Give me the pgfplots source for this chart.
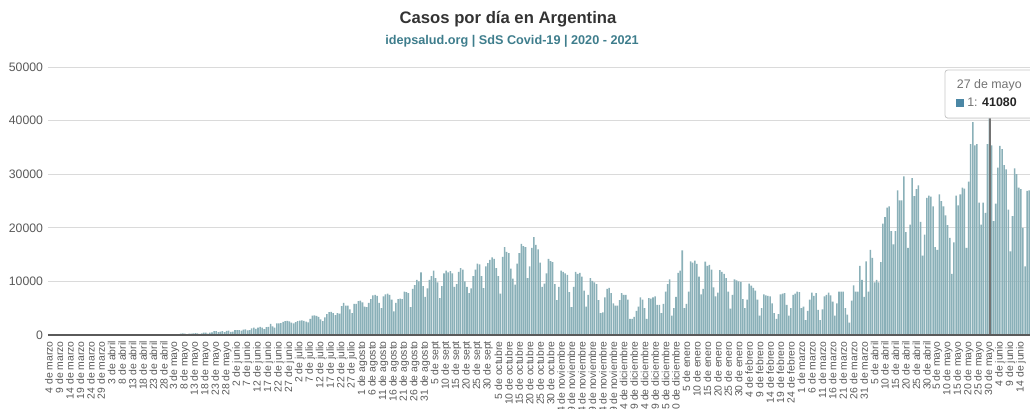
\documentclass[border=0pt]{standalone}
\usepackage{pgfplots}
\pgfplotsset{compat=1.18}
\usepackage{pgfplotstable}
\usepackage{fontspec}
\setmainfont{Liberation Sans}
\usetikzlibrary{shadows}

\definecolor{barfill}{RGB}{138,176,184}
\definecolor{gridgray}{RGB}{218,218,218}
\definecolor{ticktext}{RGB}{90,90,90}
\definecolor{titlecol}{RGB}{51,51,51}
\definecolor{subcol}{RGB}{62,125,140}
\definecolor{tipsq}{RGB}{75,135,165}

% casos diarios, 4 de marzo 2020 en adelante (un valor por barra)
\pgfplotstableread[row sep=\\]{
cases\\
1\\0\\6\\2\\5\\0\\2\\9\\12\\3\\
11\\11\\10\\9\\18\\31\\30\\67\\41\\36\\
86\\87\\101\\55\\101\\75\\59\\146\\88\\132\\
98\\89\\100\\121\\101\\106\\77\\104\\83\\60\\
130\\130\\132\\105\\112\\81\\102\\112\\145\\144\\
172\\111\\90\\124\\113\\148\\143\\103\\111\\145\\
120\\179\\165\\240\\285\\245\\163\\240\\255\\316\\
345\\325\\225\\310\\460\\425\\280\\450\\510\\720\\
720\\550\\630\\710\\560\\790\\810\\600\\640\\900\\
900\\930\\830\\1000\\1050\\860\\890\\1240\\1380\\1130\\
1400\\1530\\1380\\1100\\1450\\1500\\2060\\1630\\1370\\2150\\
2150\\2200\\2450\\2600\\2650\\2550\\2300\\2150\\2400\\2600\\
2700\\2750\\2650\\2500\\2350\\3000\\3600\\3650\\3550\\3400\\
2900\\2600\\3300\\3900\\4250\\4300\\4100\\3700\\4100\\4000\\
5400\\6000\\5500\\5500\\4800\\4100\\5800\\5800\\6300\\6400\\
6100\\5300\\5200\\6000\\6700\\7400\\7500\\7300\\6000\\5000\\
7200\\7600\\7700\\7500\\6600\\4400\\6000\\6700\\6800\\6700\\
8100\\8000\\7800\\5200\\8600\\9300\\10300\\10000\\11700\\9100\\
7100\\8700\\10300\\11000\\12000\\10600\\9800\\6900\\9100\\11500\\
12000\\11700\\11900\\11500\\9000\\9500\\11800\\12500\\12200\\10000\\
9000\\7800\\8700\\11000\\12200\\13300\\13200\\11000\\8750\\12800\\
13400\\14000\\14500\\14200\\12500\\11000\\7700\\14600\\16400\\15500\\
15300\\12400\\10500\\9400\\13300\\15300\\17000\\16600\\16400\\10600\\
12800\\16250\\18250\\16800\\16000\\13500\\9000\\9600\\11500\\14200\\
13800\\13600\\9500\\6500\\9000\\12000\\11800\\11500\\11200\\8000\\
5200\\9000\\11800\\11400\\11600\\10900\\8300\\5300\\7500\\10600\\
10100\\9800\\9500\\6500\\4100\\4200\\7000\\8600\\8800\\7800\\
5900\\5500\\5500\\6500\\7800\\7500\\7500\\6600\\3000\\3000\\
3400\\4500\\5300\\7000\\6600\\5000\\3000\\6900\\6800\\7000\\
7200\\5600\\5600\\4100\\5800\\8100\\9500\\10400\\3600\\5000\\
7100\\11600\\12000\\15800\\5000\\5800\\8100\\13750\\13500\\13900\\
13250\\10900\\7600\\8600\\13700\\12900\\13100\\12200\\8900\\7200\\
7900\\12100\\11800\\11400\\10600\\8100\\4900\\7500\\10400\\10200\\
10000\\9900\\6700\\5000\\6600\\9600\\9200\\8800\\8300\\6600\\
3600\\5000\\7600\\7400\\7300\\7200\\5900\\4100\\3000\\3900\\
7600\\7700\\7800\\5600\\3600\\5000\\7500\\7700\\8100\\8000\\
5000\\5300\\2800\\4500\\6600\\7900\\7300\\7800\\4700\\2800\\
4800\\7200\\7500\\7900\\7400\\6250\\3600\\5900\\8100\\8100\\
8100\\5000\\3800\\2300\\6400\\9250\\8100\\8100\\12900\\10300\\
7100\\13750\\8100\\15900\\14400\\9800\\10300\\9800\\13600\\20800\\
22000\\23750\\24000\\19400\\16900\\19400\\27000\\25100\\25100\\29600\\
19200\\16250\\20600\\29250\\25900\\27200\\27900\\21100\\14800\\18750\\
25600\\26000\\25800\\24000\\16400\\15900\\26250\\25000\\24000\\22300\\
20500\\18100\\11400\\17300\\26000\\24200\\26250\\27500\\27300\\16250\\
28600\\35600\\39700\\35400\\35600\\24700\\20600\\24700\\22800\\35600\\
41080\\35400\\21250\\24500\\31250\\35300\\34700\\31700\\30900\\23400\\
15600\\22200\\31100\\30000\\27500\\27200\\20000\\12800\\26900\\27000\\
}\casos

\begin{document}
\begin{tikzpicture}
% la captura original esta recortada abajo y a la derecha
\useasboundingbox (0pt,0pt) rectangle (772.5pt,-306pt);

\node[font=\bfseries\fontsize{12.5}{14}\selectfont, text=titlecol] at (381pt,-14.5pt) {Casos por día en Argentina};
\node[font=\bfseries\fontsize{9.5}{11}\selectfont, text=subcol] at (384pt,-31.25pt) {idepsalud.org | SdS Covid-19 | 2020 - 2021};

\begin{axis}[
  at={(35.96pt,-251.25pt)}, anchor=south west,
  scale only axis, width=737.5pt, height=201pt,
  xmin=-0.5, xmax=470, ymin=0, ymax=50000,
  axis line style={draw=none},
  tick style={draw=none},
  ytick={0,10000,20000,30000,40000,50000},
  ymajorgrids, grid style={draw=gridgray, line width=0.6pt},
  scaled y ticks=false,
  /pgf/number format/1000 sep={},
  /pgf/number format/assume math mode=true,
  yticklabel style={font=\fontsize{9.2}{10}\selectfont, text=ticktext, inner sep=0pt, xshift=-3.5pt},
  xtick={0,5,...,465},
  xticklabels={4 de marzo, 9 de marzo, 14 de marzo, 19 de marzo, 24 de marzo, 29 de marzo,
    3 de abril, 8 de abril, 13 de abril, 18 de abril, 23 de abril, 28 de abril,
    3 de mayo, 8 de mayo, 13 de mayo, 18 de mayo, 23 de mayo, 28 de mayo,
    2 de junio, 7 de junio, 12 de junio, 17 de junio, 22 de junio, 27 de junio,
    2 de julio, 7 de julio, 12 de julio, 17 de julio, 22 de julio, 27 de julio,
    1 de agosto, 6 de agosto, 11 de agosto, 16 de agosto, 21 de agosto, 26 de agosto, 31 de agosto,
    5 de sept, 10 de sept, 15 de sept, 20 de sept, 25 de sept, 30 de sept,
    5 de octubre, 10 de octubre, 15 de octubre, 20 de octubre, 25 de octubre, 30 de octubre,
    4 de noviembre, 9 de noviembre, 14 de noviembre, 19 de noviembre, 24 de noviembre, 29 de noviembre,
    4 de diciembre, 9 de diciembre, 14 de diciembre, 19 de diciembre, 25 de diciembre, 30 de diciembre,
    5 de enero, 10 de enero, 15 de enero, 20 de enero, 25 de enero, 30 de enero,
    4 de febrero, 9 de febrero, 14 de febrero, 19 de febrero, 24 de febrero,
    1 de marzo, 6 de marzo, 11 de marzo, 16 de marzo, 21 de marzo, 26 de marzo, 31 de marzo,
    5 de abril, 10 de abril, 15 de abril, 20 de abril, 25 de abril, 30 de abril,
    5 de mayo, 10 de mayo, 15 de mayo, 20 de mayo, 25 de mayo, 30 de mayo,
    4 de junio, 9 de junio, 14 de junio},
  xticklabel style={rotate=90, anchor=east, inner sep=0pt, font=\fontsize{7.8}{8}\selectfont, text=ticktext},
  xticklabel shift=4.5pt,
]
\addplot[ybar, bar width=1.15pt, bar shift=0pt, fill=barfill, draw=none]
  table[x expr=\coordindex, y=cases] {\casos};
% barra resaltada por el tooltip
\addplot[ybar, bar width=1.0pt, bar shift=0pt, fill=barfill, draw=black!55, line width=0.3pt]
  coordinates {(450,41080)};
\draw[draw={rgb,255:red,90;green,90;blue,90}, line width=0.9pt] (rel axis cs:0,0) -- (rel axis cs:1,0);
\end{axis}

% tooltip
\draw[draw=black!22, fill=white, rounded corners=2pt, line width=0.6pt,
  drop shadow={opacity=0.12, shadow xshift=1pt, shadow yshift=-1pt}]
  (708.75pt,-52.5pt) rectangle (790pt,-88.5pt);
\node[anchor=west, inner sep=0pt, font=\fontsize{9.3}{10}\selectfont, text=black!55] at (717.5pt,-63.75pt) {27 de mayo};
\fill[tipsq] (716.5pt,-73.5pt) rectangle (723pt,-80.25pt);
\draw[white, line width=0.4pt] (716.5pt,-73.5pt) rectangle (723pt,-80.25pt);
\node[anchor=west, inner sep=0pt, font=\fontsize{9.3}{10}\selectfont, text=black!55] at (725.25pt,-77pt) {1: \textcolor{black!85}{\textbf{41080}}};
\end{tikzpicture}
\end{document}
